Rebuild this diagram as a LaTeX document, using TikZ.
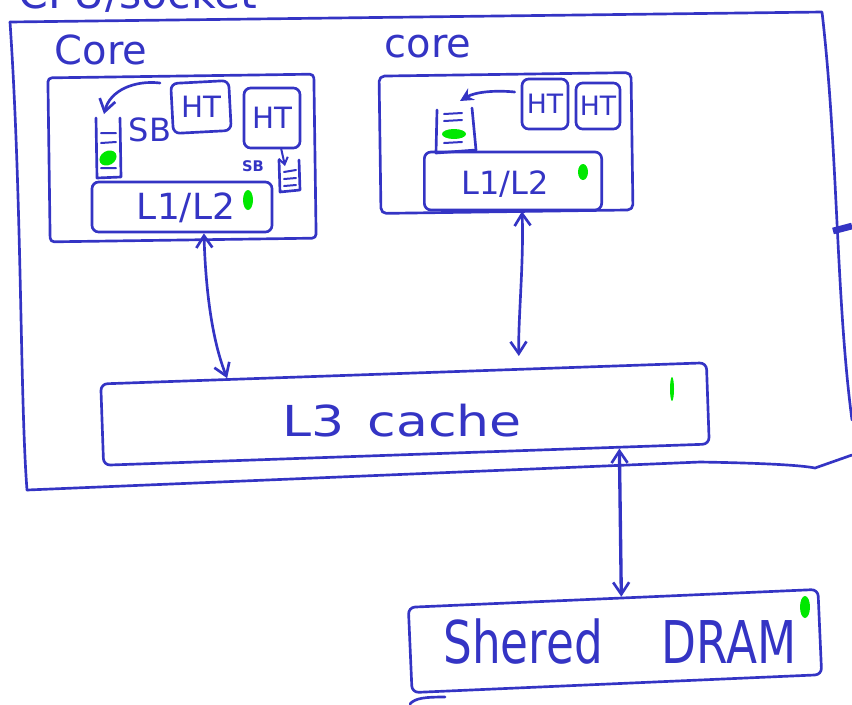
\documentclass[tikz,border=0pt]{standalone}
\usepackage{fontspec}
\setmainfont{DejaVu Sans}
\usetikzlibrary{arrows.meta,calc}
\definecolor{ink}{RGB}{52,52,196}
\definecolor{hl}{RGB}{0,232,0}
\begin{document}
\begin{tikzpicture}[x=0.75pt,y=-0.75pt,
  pen/.style={draw=ink,line width=2pt,line cap=round,line join=round},
  box/.style={pen,rounded corners=5pt,inner sep=0pt},
  lbl/.style={text=ink,inner sep=0pt},
  barb/.style={-{Straight Barb[length=9pt,width=12pt,line width=2pt]}},
  dbarb/.style={{Straight Barb[length=9pt,width=12pt,line width=2pt]}-{Straight Barb[length=9pt,width=12pt,line width=2pt]}},
  sthk/.style={-{Stealth[length=10pt,width=10pt]}},
  blob/.style={fill=hl,draw=none}]
\useasboundingbox (0,0) rectangle (852,704);

% ---------- socket ----------
\node[lbl,anchor=base west,font=\fontsize{32}{36}\selectfont] (sock) at (18,8) {CPU/socket};
\coordinate (stl) at (10,22);
\coordinate (str) at (822,12);
\coordinate (sbl) at (27,490);
\draw[pen] (stl) -- (str) .. controls (838,150) and (836,300) .. (852,420);
\draw[pen] (stl) .. controls (22,200) and (20,400) .. (sbl);
\draw[pen] (sbl) -- (700,462) .. controls (760,463) and (800,465) .. (815,468) -- (852,455);
\coordinate (stub) at (833,231);
\draw[ink,line width=5pt] (stub) -- (852,226);

% ---------- left core ----------
\node[lbl,font=\fontsize{30}{34}\selectfont] (lcorel) at (101,50) {Core};
\node[box,rounded corners=3pt,minimum width=199.5pt,minimum height=123pt,rotate=0.8] (lcore) at (182,158) {};
\node[box,minimum width=43.5pt,minimum height=37.5pt,rotate=3] (lht1) at (201,107) {};
\node[lbl,font=\fontsize{22}{24}\selectfont] at (lht1) {HT};
\node[box,minimum width=42pt,minimum height=45pt] (lht2) at (272,118) {};
\node[lbl,font=\fontsize{22}{24}\selectfont] at (lht2) {HT};
\node[lbl,font=\fontsize{24}{26}\selectfont] (lsb) at (150,130) {SB};
\node[lbl,font=\fontsize{11}{12}\selectfont\bfseries] (lsb2) at (253,166) {SB};
% store buffer stack (left)
\coordinate (lsk) at (96,118);
\draw[pen] (lsk) -- (97,178) -- (121,177) -- (120,118);
\draw[pen,line width=1.5pt] (101,133) -- (116,133) (101,143) -- (116,142) (101,168) -- (116,168);
\fill[blob,rotate around={30:(108,158)}] (108,158) ellipse [x radius=9, y radius=7];
\draw[pen,barb] (160,83) .. controls (135,80) and (110,90) .. (104,114);
% small stack (right)
\coordinate (rsk) at (279,160);
\draw[pen] (rsk) -- (280,192) -- (300,190) -- (299,160);
\draw[pen,line width=1.5pt] (284,172) -- (296,170) (284,179) -- (296,178) (284,186) -- (296,185);
\draw[pen,line width=1.5pt,-{Straight Barb[length=5pt,width=7pt]}] (281,148) -- (285,166);
\node[box,minimum width=135pt,minimum height=37.5pt] (ll12) at (182,207) {};
\node[lbl,font=\fontsize{27}{30}\selectfont] at (186,208) {L1/L2};
\fill[blob] (248,200) ellipse [x radius=5, y radius=10];

% ---------- right core ----------
\node[lbl,font=\fontsize{30}{34}\selectfont] (rcorel) at (428,47) {core};
\node[box,rounded corners=4pt,minimum width=189pt,minimum height=103pt,rotate=0.8] (rcore) at (506,143) {};
\node[box,minimum width=34.5pt,minimum height=37.5pt] (rht1) at (545,104) {};
\node[lbl,font=\fontsize{20}{22}\selectfont] at (rht1) {HT};
\node[box,minimum width=33pt,minimum height=34.5pt] (rht2) at (598,106) {};
\node[lbl,font=\fontsize{20}{22}\selectfont] at (rht2) {HT};
\coordinate (rst) at (437,110);
\draw[pen] (rst) -- (436,153) -- (476,150) -- (472,108);
\draw[pen,line width=1.5pt] (444,114) -- (462,113) (444,121) -- (462,120) (444,143) -- (462,142);
\fill[blob] (454,134) ellipse [x radius=12, y radius=5];
\draw[pen,sthk] ($(rht1.west)+(-6,-12)$) .. controls (495,90) and (475,92) .. (460,101);
\node[box,minimum width=133pt,minimum height=43.5pt] (rl12) at (513,181) {};
\node[lbl,font=\fontsize{24}{27}\selectfont] at (505,184) {L1/L2};
\fill[blob] (583,172) ellipse [x radius=5, y radius=8];

% ---------- L3 ----------
\node[box,minimum width=454.5pt,minimum height=61pt,rotate=2] (l3) at (405,414) {};
\node[lbl,font=\fontsize{32}{36}\selectfont,xscale=1.22] (l3t) at (402,421) {L3\hspace{0.45em}cache};
\fill[blob] (672,389) ellipse [x radius=2, y radius=12];

% ---------- DRAM ----------
\node[box,minimum width=307.5pt,minimum height=64pt,rotate=2.5] (dram) at (615,641) {};
\node[lbl,font=\fontsize{34}{38}\selectfont,yscale=1.3] (dramt) at (620,642) {Shered\hspace{1.3em}DRAM};
\fill[blob] (805,607) ellipse [x radius=5, y radius=11];
\coordinate (dk) at (410,704);
\draw[pen] (dk) .. controls (415,698) and (425,697) .. (445,697);

% ---------- connectors ----------
\draw[pen,dbarb] ($(ll12.south west)!0.62!(ll12.south east)$) .. controls (206,300) and (214,345) .. ($(l3.north west)!0.21!(l3.north east)$);
\draw[pen,dbarb,shorten >=9pt] ($(rl12.south west)!0.55!(rl12.south east)$) .. controls (524,260) and (518,320) .. ($(l3.north west)!0.69!(l3.north east)$);
\draw[pen,line width=2.5pt,dbarb] ($(l3.south west)!0.85!(l3.south east)$) -- ($(dram.north west)!0.52!(dram.north east)$);
\end{tikzpicture}
\end{document}
